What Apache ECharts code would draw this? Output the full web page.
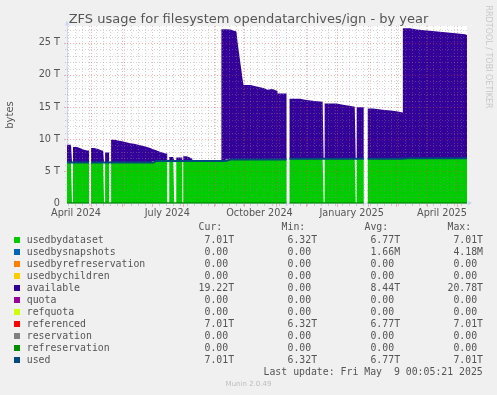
<!DOCTYPE html>
<html>
<head>
<meta charset="utf-8">
<script src="https://cdn.jsdelivr.net/npm/echarts@6/dist/echarts.min.js"></script>
<style>
html,body{margin:0;padding:0;background:#F0F0F0;overflow:hidden;}
#chart{width:497px;height:395px;}
</style>
</head>
<body>
<div id="chart"></div>
<script>
// ---- data, values in TB ----
const dates = [
'2024-04-07','2024-04-11','2024-04-12','2024-04-13','2024-04-17','2024-04-21','2024-04-24','2024-04-27','2024-04-29',
'2024-05-01','2024-05-04','2024-05-08','2024-05-11','2024-05-13','2024-05-14','2024-05-15','2024-05-17','2024-05-19',
'2024-05-21','2024-05-24','2024-05-28','2024-06-01','2024-06-05','2024-06-09','2024-06-13','2024-06-17','2024-06-21','2024-06-25','2024-06-29',
'2024-07-02','2024-07-05','2024-07-08','2024-07-11','2024-07-14','2024-07-16','2024-07-18','2024-07-22','2024-07-23','2024-07-25','2024-07-29','2024-07-31',
'2024-08-01','2024-08-04','2024-08-07','2024-08-10','2024-09-08','2024-09-13','2024-09-17','2024-09-23','2024-09-24','2024-09-25','2024-09-26','2024-09-27','2024-09-28','2024-09-29','2024-09-30',
'2024-10-07','2024-10-13','2024-10-20','2024-10-24','2024-10-29','2024-11-03','2024-11-08','2024-11-12',
'2024-11-15','2024-11-25','2024-12-02','2024-12-10','2024-12-18','2024-12-19','2024-12-20',
'2025-01-01','2025-01-07','2025-01-14','2025-01-19','2025-01-20','2025-01-21','2025-01-24','2025-01-28',
'2025-02-01','2025-02-06','2025-02-16','2025-02-26','2025-03-03','2025-03-08','2025-03-15','2025-03-22',
'2025-04-01','2025-04-14','2025-04-27','2025-05-09','2025-05-11'
];
const usedbydataset = [
6.32,6.32,null,6.32,6.32,6.32,6.32,6.32,null,
6.32,6.32,6.32,6.32,6.32,null,6.32,6.32,null,
6.32,6.32,6.32,6.32,6.32,6.32,6.32,6.32,6.32,6.32,6.32,
6.58,6.58,6.58,6.58,6.58,null,6.58,6.58,null,6.58,6.58,null,
6.58,6.58,6.58,6.58,6.58,6.78,6.78,6.78,6.78,6.78,6.78,6.78,6.78,6.78,6.78,
6.78,6.78,6.78,6.78,6.78,6.78,6.78,null,
6.92,6.92,6.92,6.92,6.92,null,6.92,
6.92,6.92,6.92,6.92,null,6.92,6.92,null,
6.92,6.92,6.92,6.92,6.92,7.01,7.01,7.01,
7.01,7.01,7.01,7.01,7.01
];
const available = [
2.78,2.78,null,2.43,2.18,1.98,1.88,1.88,null,
2.28,2.13,1.93,1.83,1.83,null,1.58,1.58,null,
3.58,3.43,3.33,3.18,3.03,2.93,2.78,2.63,2.48,2.28,2.08,
1.67,1.47,1.32,1.14,1.14,null,0.62,0.62,null,0.52,0.52,null,
0.72,0.57,0.32,0,20.57,20.32,20.02,19.72,18.52,17.32,16.22,15.02,13.92,12.72,11.67,
11.42,11.17,10.92,11.02,10.72,10.32,10.32,null,
9.38,9.18,9.03,8.88,8.88,null,8.63,
8.43,8.28,8.13,8.13,null,8.03,8.03,null,
7.83,7.63,7.48,7.38,7.23,20.29,20.09,19.94,
19.74,19.54,19.34,19.22,19.22
];
const used = [
6.32,6.32,6.32,6.32,6.32,6.32,6.32,6.32,null,
6.32,6.32,6.32,6.32,6.32,6.32,6.32,6.32,6.32,
6.32,6.32,6.32,6.32,6.32,6.32,6.32,6.32,6.32,6.32,6.32,
6.58,6.58,6.58,6.58,6.58,6.58,6.58,6.58,6.58,6.58,6.58,6.58,
6.58,6.58,6.58,6.58,6.58,6.78,6.78,6.78,6.78,6.78,6.78,6.78,6.78,6.78,6.78,
6.78,6.78,6.78,6.78,6.78,6.78,6.78,null,
6.92,6.92,6.92,6.92,6.92,6.92,6.92,
6.92,6.92,6.92,6.92,6.92,6.92,6.92,null,
6.92,6.92,6.92,6.92,6.92,7.01,7.01,7.01,
7.01,7.01,7.01,7.01,7.01
];
const refreservation = [
0,0,0,0,0,0,0,0,null,
0,0,0,0,0,0,0,0,0,
0,0,0,0,0,0,0,0,0,0,0,
0,0,0,0,0,0,0,0,0,0,0,0,
0,0,0,0,0,0,0,0,0,0,0,0,0,0,0,
0,0,0,0,0,0,0,null,
0,0,0,0,0,0,0,
0,0,0,0,0,0,0,null,
0,0,0,0,0,0,0,0,
0,0,0,0,0
];
const xLabels = ['April 2024','July 2024','October 2024','January 2025','April 2025'];
const xLabelMonths = ['2024-04-01','2024-07-01','2024-10-01','2025-01-01','2025-04-01'];
const yTickValues = [0,5,10,15,20,25];
const yTickLabels = ['0','5 T','10 T','15 T','20 T','25 T'];

const legendNames = ['usedbydataset','usedbysnapshots','usedbyrefreservation','usedbychildren','available','quota','refquota','referenced','reservation','refreservation','used'];
const legendColors = ['#00CC00','#0066B3','#FF8000','#FFCC00','#330099','#990099','#CCFF00','#FF0000','#808080','#008F00','#00487D'];
const curVals = ['7.01T','0.00','0.00','0.00','19.22T','0.00','0.00','7.01T','0.00','0.00','7.01T'];
const minVals = ['6.32T','0.00','0.00','0.00','0.00','0.00','0.00','6.32T','0.00','0.00','6.32T'];
const avgVals = ['6.77T','1.66M','0.00','0.00','8.44T','0.00','0.00','6.77T','0.00','0.00','6.77T'];
const maxVals = ['7.01T','4.18M','0.00','0.00','20.78T','0.00','0.00','7.01T','0.00','0.00','7.01T'];
const titleText = 'ZFS usage for filesystem opendatarchives/ign - by year';
const lastUpdate = 'Last update: Fri May  9 00:05:21 2025';

// ---- helpers ----
function ts(s){const p=s.split('-').map(Number);return Date.UTC(p[0],p[1]-1,p[2]);}
const DAY = 86400000;
const X_MIN = ts('2024-04-07'), X_MAX = ts('2025-05-11');
const pairs = arr => dates.map((d,i)=>[ts(d), arr[i]===null ? '-' : arr[i]]);

const MAJOR = 'rgba(230,60,60,0.38)';
const MINOR = 'rgba(140,140,140,0.38)';
const TXT = '#555555';
const SANS = '"DejaVu Sans"';
const MONO = '"DejaVu Sans Mono"';

// grid positions (months = major, weeks = minor)
const monthStarts = [];
for (let y=2024, m=4;;) { const t = Date.UTC(y,m,1); if (t > X_MAX) break; monthStarts.push(t); m++; if (m>11){m=0;y++;} }
const weeks = [];
for (let t = ts('2024-04-08'); t < X_MAX; t += 7*DAY) weeks.push(t);
const vGrid = monthStarts.map(t=>[t,1]).concat(weeks.filter(t=>monthStarts.indexOf(t)<0).map(t=>[t,0]));
const hGrid = [];
for (let v=1; v<=27; v++) hGrid.push([X_MIN, v, v%5===0 ? 1 : 0]);
const labelData = xLabelMonths.map((m,i)=>[ts(m)+15*DAY, i]);

function txtStyle(text, font, fill, align, valign){
  return {text:text, font:font, textFont:font, fill:fill, textFill:fill,
          align:align, textAlign:align, verticalAlign:valign, textVerticalAlign:valign};
}

// ---- legend block ----
const graphics = [];
graphics.push({type:'text', x:248.5, y:19.5, silent:true, style:txtStyle(titleText, '13px '+SANS, TXT, 'center', 'middle')});
graphics.push({type:'text', x:10, y:115, rotation:Math.PI/2, silent:true, style:txtStyle('bytes', '10px '+SANS, TXT, 'center', 'middle')});
graphics.push({type:'text', x:488, y:57, rotation:-Math.PI/2, silent:true, style:txtStyle('RRDTOOL / TOBI OETIKER', '8px '+SANS, '#C8C8C8', 'center', 'middle')});
const LX = 26.7, ROW0 = 240, ROWH = 12;
const head = ' '.repeat(29)+'Cur:'+' '.repeat(10)+'Min:'+' '.repeat(10)+'Avg:'+' '.repeat(10)+'Max:';
graphics.push({type:'text', x:LX, y:227.5, silent:true, style:txtStyle(head, '9.85px '+MONO, TXT, 'left', 'middle')});
const cell = v => ((/[A-Za-z]$/.test(v) ? v : v+' ').padStart(7)) + '       ';
legendNames.forEach((n,i)=>{
  const y = ROW0 + i*ROWH;
  graphics.push({type:'rect', silent:true, shape:{x:14, y:y-3, width:6, height:6}, style:{fill:legendColors[i]}});
  const row = n.padEnd(28) + cell(curVals[i]) + cell(minVals[i]) + cell(avgVals[i]) + cell(maxVals[i]);
  graphics.push({type:'text', x:LX, y:y, silent:true, style:txtStyle(row, '9.85px '+MONO, TXT, 'left', 'middle')});
});
graphics.push({type:'text', x:482.8, y:372, silent:true, style:txtStyle(lastUpdate, '9.85px '+MONO, TXT, 'right', 'middle')});
graphics.push({type:'text', x:248.5, y:384.5, silent:true, style:txtStyle('Munin 2.0.49', '7px '+SANS, '#BDBDBD', 'center', 'middle')});

const chart = echarts.init(document.getElementById('chart'), null, {renderer:'canvas'});
chart.setOption({
  animation:false,
  backgroundColor:'#F0F0F0',
  grid:{left:67, top:26, width:400, height:177, containLabel:false, outerBoundsMode:'none', show:true, backgroundColor:'#FFFFFF', borderWidth:0},
  xAxis:{type:'time', min:X_MIN, max:X_MAX,
    axisLine:{show:true, lineStyle:{color:'#CFD6F8', width:1}, symbol:['none','triangle'], symbolSize:[5,5], symbolOffset:[0,3]},
    axisTick:{show:false}, axisLabel:{show:false}, splitLine:{show:false}},
  yAxis:{type:'value', min:0, max:27.65, interval:5,
    axisLine:{show:true, lineStyle:{color:'#CFD6F8', width:1}, symbol:['none','triangle'], symbolSize:[5,5], symbolOffset:[0,3]},
    axisTick:{show:false}, splitLine:{show:false},
    axisLabel:{color:TXT, fontFamily:'DejaVu Sans', fontSize:9.7, margin:7,
      formatter:v=>{const k=yTickValues.indexOf(v); return k>=0 ? yTickLabels[k] : '';}}},
  graphic:{elements:graphics},
  series:[
    {name:'usedbydataset', type:'line', stack:'zfs', step:'end', symbol:'none', z:2, connectNulls:false,
     lineStyle:{width:0, opacity:0}, areaStyle:{color:'#00CC00', opacity:1}, data:pairs(usedbydataset)},
    {name:'available', type:'line', stack:'zfs', step:'end', symbol:'none', z:2, connectNulls:false,
     lineStyle:{width:0, opacity:0}, areaStyle:{color:'#330099', opacity:1}, data:pairs(available)},
    {name:'vgrid', type:'custom', z:3, silent:true, clip:false, data:vGrid, encode:{x:0, y:1},
     renderItem:(params, api)=>{
       const cs = params.coordSys;
       const x = Math.round(api.coord([api.value(0), 0])[0]) + 0.5;
       const major = api.value(1) === 1;
       const c = major ? MAJOR : MINOR;
       return {type:'group', children:[
         {type:'line', shape:{x1:x, y1:cs.y, x2:x, y2:cs.y+cs.height}, style:{stroke:c, lineWidth:1, lineDash:[1,2]}},
         {type:'line', shape:{x1:x, y1:cs.y+cs.height+1, x2:x, y2:cs.y+cs.height+(major?4:3)}, style:{stroke:c, lineWidth:1}}
       ]};
     }},
    {name:'hgrid', type:'custom', z:3, silent:true, clip:false, data:hGrid, encode:{x:0, y:1},
     renderItem:(params, api)=>{
       const cs = params.coordSys;
       const y = Math.round(api.coord([api.value(0), api.value(1)])[1]) + 0.5;
       const major = api.value(2) === 1;
       const c = major ? MAJOR : MINOR;
       return {type:'group', children:[
         {type:'line', shape:{x1:cs.x, y1:y, x2:cs.x+cs.width, y2:y}, style:{stroke:c, lineWidth:1, lineDash:[1,2]}},
         {type:'line', shape:{x1:cs.x-(major?3:2), y1:y, x2:cs.x-1, y2:y}, style:{stroke:c, lineWidth:1}}
       ]};
     }},
    {name:'xlabels', type:'custom', z:3, silent:true, clip:false, data:labelData, encode:{x:0, y:1},
     renderItem:(params, api)=>{
       const cs = params.coordSys;
       const x = api.coord([api.value(0), 0])[0];
       return {type:'text', x:x, y:cs.y+cs.height+10,
         style:txtStyle(xLabels[api.value(1)], '9.7px '+SANS, TXT, 'center', 'middle')};
     }},
    {name:'refreservation', type:'line', step:'end', symbol:'none', z:4, connectNulls:false,
     lineStyle:{color:'#008F00', width:1.5}, data:pairs(refreservation)},
    {name:'used', type:'line', step:'end', symbol:'none', z:4, connectNulls:false,
     lineStyle:{color:'#00487D', width:2}, data:pairs(used)}
  ]
});
</script>
</body>
</html>
